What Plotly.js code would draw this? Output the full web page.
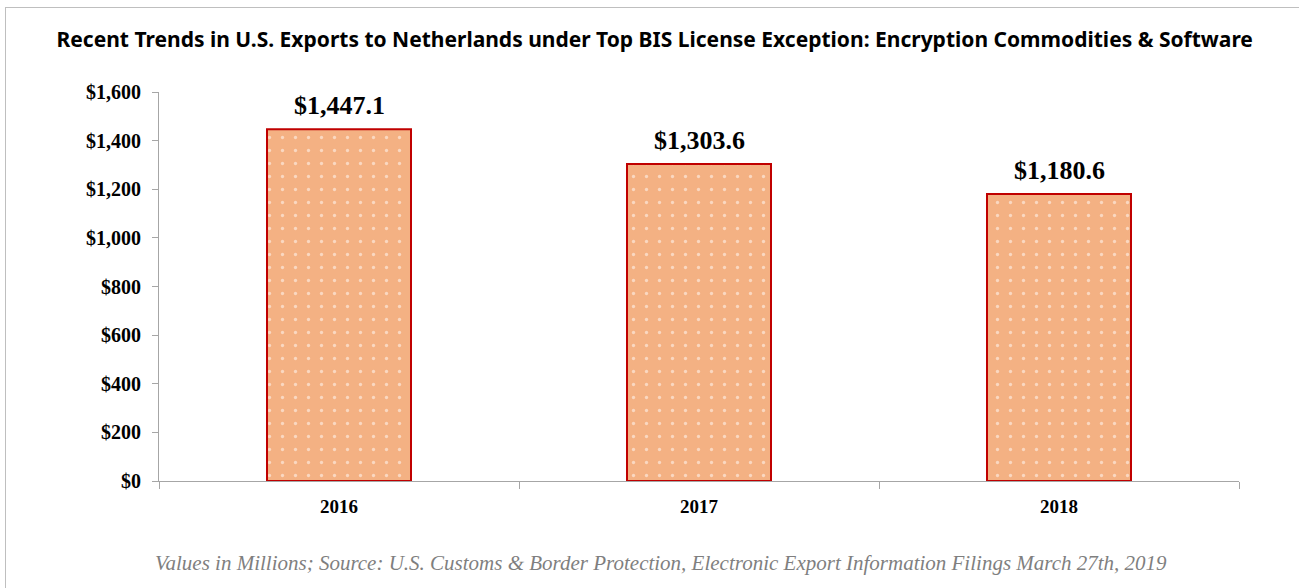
<!DOCTYPE html>
<html>
<head>
<meta charset="utf-8">
<script src="https://cdn.plot.ly/plotly-3.0.1.min.js"></script>
<style>
  html, body { margin: 0; padding: 0; background: #fff; }
  #chart { width: 1299px; height: 588px; position: absolute; left: 0; top: 0; }
  #frame { position: absolute; left: 5px; top: 7px; width: 1400px; height: 700px;
           border-left: 1px solid #bfbfbf; border-top: 1px solid #bfbfbf; pointer-events: none; }
</style>
</head>
<body>
<div id="chart"></div>
<div id="frame"></div>
<script>
const years = ['2016', '2017', '2018'];
const exportValues = [1447.1, 1303.6, 1180.6];
const yTickValues = [0, 200, 400, 600, 800, 1000, 1200, 1400, 1600];
const chartTitle = 'Recent Trends in U.S. Exports to Netherlands under Top BIS License Exception: Encryption Commodities &amp; Software';
const footnote = 'Values in Millions; Source: U.S. Customs &amp; Border Protection, Electronic Export Information Filings March 27th, 2019';

const fmtMoney = (v, d) => '$' + v.toLocaleString('en-US', { minimumFractionDigits: d, maximumFractionDigits: d });
const yTickText = yTickValues.map(v => fmtMoney(v, 0));

const serif = 'Liberation Serif, Times New Roman, serif';

const trace = {
  type: 'bar',
  x: years,
  y: exportValues,
  width: 0.4,
  marker: {
    color: '#F4B183',
    line: { color: '#C00000', width: 2 },
    pattern: { shape: '.', fgcolor: '#ffffff', bgcolor: '#F4B183', size: 13, solidity: 0.05, fillmode: 'overlay' }
  },
  hoverinfo: 'skip'
};

const labelAnnotations = years.map((yr, i) => ({
  x: i, y: exportValues[i], xref: 'x', yref: 'y',
  text: '<b>' + fmtMoney(exportValues[i], 1) + '</b>',
  showarrow: false, xanchor: 'center', yanchor: 'bottom', yshift: 7,
  font: { family: serif, size: 26, color: '#000' }
}));

const layout = {
  width: 1299,
  height: 588,
  margin: { l: 159, r: 60, t: 92, b: 107 },
  paper_bgcolor: '#ffffff',
  plot_bgcolor: '#ffffff',
  showlegend: false,
  title: {
    text: '<b>' + chartTitle + '</b>',
    x: 0.504, xanchor: 'center',
    y: 0.932, yanchor: 'middle',
    font: { family: 'Noto Sans, Open Sans, sans-serif', size: 21, color: '#000' }
  },
  xaxis: {
    type: 'category',
    range: [-0.5, years.length - 0.5],
    showline: true, linecolor: '#a6a6a6', linewidth: 1,
    ticks: 'outside', tickson: 'boundaries', ticklen: 7, tickcolor: '#a6a6a6',
    ticklabelstandoff: 8, tickangle: 0,
    showgrid: false, zeroline: false,
    tickfont: { family: serif, size: 19, color: '#000', weight: 'bold' }
  },
  yaxis: {
    range: [0, 1600],
    tickmode: 'array',
    tickvals: yTickValues,
    ticktext: yTickText,
    showline: true, linecolor: '#a6a6a6', linewidth: 1,
    ticks: 'outside', ticklen: 6, tickcolor: '#a6a6a6',
    ticklabelstandoff: 7,
    showgrid: false, zeroline: false,
    tickfont: { family: serif, size: 20, color: '#000', weight: 'bold' }
  },
  annotations: labelAnnotations.concat([{
    text: '<i>' + footnote + '</i>',
    xref: 'paper', yref: 'paper',
    x: 0.465, y: -0.212, xanchor: 'center', yanchor: 'middle',
    showarrow: false,
    font: { family: serif, size: 21, color: '#7f7f7f' }
  }])
};

Plotly.newPlot('chart', [trace], layout, { displayModeBar: false, staticPlot: true });
</script>
</body>
</html>
